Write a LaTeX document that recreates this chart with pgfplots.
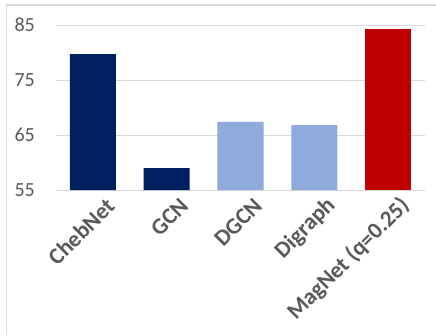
\documentclass[border=0pt]{standalone}
\usepackage{pgfplots}
\pgfplotsset{compat=1.18}
\usepackage{fontspec}
\setmainfont{Carlito}
\definecolor{navy}{HTML}{002060}
\definecolor{lightblue}{HTML}{8FAADC}
\definecolor{darkred}{HTML}{C00000}
\definecolor{gridgray}{HTML}{D9D9D9}
\definecolor{textgray}{HTML}{595959}
\begin{document}
\begin{tikzpicture}[x=1pt,y=1pt]
\useasboundingbox (0,0) rectangle (436,335);
\draw[color=gridgray, line width=1.3pt] (6.5,0) -- (6.5,330) -- (436,330);
\begin{axis}[
  at={(56pt,145pt)}, anchor=south west,
  scale only axis, width=369pt, height=165pt,
  xmin=-0.5, xmax=4.5, ymin=55, ymax=85,
  ytick={55,65,75,85},
  xtick={0,1,2,3,4},
  xticklabels={ChebNet,GCN,DGCN,Digraph,MagNet (q=0.25)},
  ymajorgrids, grid style={gridgray, line width=1pt},
  axis line style={draw=none},
  major tick length=0pt, tick style={draw=none},
  /pgf/number format/assume math mode=true,
  ticklabel style={font=\fontsize{20}{24}\selectfont, text=textgray},
  yticklabel style={anchor=east, inner sep=0pt, xshift=-21pt},
  xticklabel style={rotate=45, anchor=east, inner sep=0pt, font=\fontsize{23}{27}\selectfont\bfseries, xshift=4pt, yshift=-21pt},
  ybar, bar width=46pt, bar shift=0pt,
]
\addplot[fill=navy, draw=none] coordinates {(0,79.7) (1,59.0)};
\addplot[fill=lightblue, draw=none] coordinates {(2,67.4) (3,66.8)};
\addplot[fill=darkred, draw=none] coordinates {(4,84.3)};
\end{axis}
\end{tikzpicture}
\end{document}
